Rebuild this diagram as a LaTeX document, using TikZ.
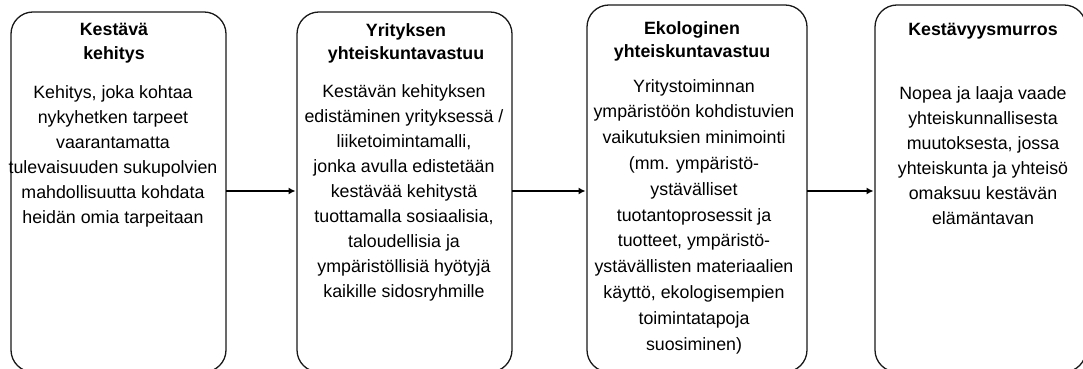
\documentclass[tikz,border=0pt]{standalone}
\usepackage{fontspec}
\setmainfont{Liberation Sans}
\usetikzlibrary{arrows.meta}
\begin{document}
\begin{tikzpicture}[x=1pt,y=1pt,
  box/.style={draw=black!90, line width=1.3pt, rounded corners=22pt, inner sep=0pt, outer sep=0pt, anchor=north west},
  ttl/.style={font=\bfseries\fontsize{17.8}{23.5}\selectfont, align=center, inner sep=0pt, anchor=north, execute at begin node={\rule{0pt}{14pt}}},
  bodytext/.style={font=\fontsize{17.8}{25}\selectfont, align=center, inner sep=0pt, anchor=north, execute at begin node={\rule{0pt}{14pt}}},
  conn/.style={line width=1.3pt, -{Latex[length=7pt,width=7pt]}, shorten >=1.5pt}]
\useasboundingbox (0,0) rectangle (1083,369);

\node[box, minimum width=215pt, minimum height=360pt] (b1) at (11,357) {};
\node[box, minimum width=215pt, minimum height=360pt] (b2) at (297,357) {};
\node[box, minimum width=220pt, minimum height=367pt] (b3) at (587,364) {};
\node[box, minimum width=211pt, minimum height=367pt] (b4) at (875,364) {};

\node[ttl] (t1) at (114,346) {Kestävä\\kehitys};
\node[bodytext] (d1) at (113,284) {Kehitys, joka kohtaa\\nykyhetken tarpeet\\vaarantamatta\\tulevaisuuden sukupolvien\\mahdollisuutta kohdata\\heidän omia tarpeitaan};

\node[ttl] (t2) at (406,346) {Yrityksen\\yhteiskuntavastuu};
\node[bodytext] (d2) at (404,285) {Kestävän kehityksen\\edistäminen yrityksessä /\\liiketoimintamalli,\\jonka avulla edistetään\\kestävää kehitystä\\tuottamalla sosiaalisia,\\taloudellisia ja\\ympäristöllisiä hyötyjä\\kaikille sidosryhmille};

\node[ttl] (t3) at (692,348) {Ekologinen\\yhteiskuntavastuu};
\node[bodytext, font=\fontsize{17.8}{25.8}\selectfont] (d3) at (694,290) {Yritystoiminnan\\ympäristöön kohdistuvien\\vaikutuksien minimointi\\(mm. ympäristö-\\ystävälliset\\tuotantoprosessit ja\\tuotteet, ympäristö-\\ystävällisten materiaalien\\käyttö, ekologisempien\\toimintatapoja\\suosiminen)};

\node[ttl] (t4) at (983,348) {Kestävyysmurros};
\node[bodytext] (d4) at (983,283) {Nopea ja laaja vaade\\yhteiskunnallisesta\\muutoksesta, jossa\\yhteiskunta ja yhteisö\\omaksuu kestävän\\elämäntavan};

\coordinate (ay) at (0,178);
\draw[conn] (b1.east |- ay) -- (b2.west |- ay);
\draw[conn] (b2.east |- ay) -- (b3.west |- ay);
\draw[conn] (b3.east |- ay) -- (b4.west |- ay);
\end{tikzpicture}
\end{document}
